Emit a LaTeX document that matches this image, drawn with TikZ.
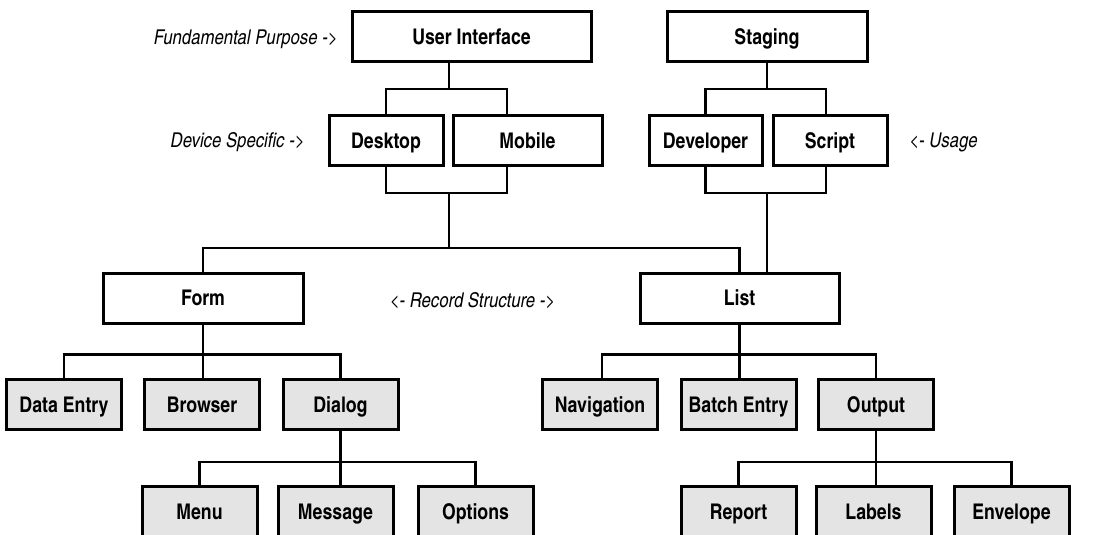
\documentclass[tikz,border=0pt]{standalone}
\usepackage{fontspec}
\newfontfamily\boxfont{texgyreheroscn-bold.otf}
\newfontfamily\notefont{texgyreheroscn-italic.otf}
\usepackage{tikz}
\usetikzlibrary{positioning,calc}
\definecolor{panel}{RGB}{228,228,228}
\tikzset{
  box/.style={draw=black, line width=1.5pt, fill=#1, align=center, minimum height=25pt, inner sep=0pt, text height=7.6pt, text depth=0pt, font=\boxfont\fontsize{10.8}{12}\selectfont},
  box/.default={white},
  leaf/.style={box=panel, minimum width=57.5pt},
  note/.style={inner sep=0pt, text height=7.3pt, text depth=0pt, font=\notefont\fontsize{10.2}{12}\selectfont},
  link/.style={line width=1.4pt, draw=black}
}

\begin{document}
\begin{tikzpicture}[x=0.5pt,y=-0.5pt]
  \useasboundingbox (0,0) rectangle (1114,535);
  % purpose and device
  \node[box, minimum width=119.5pt] (ui) at (471.5,36.5) {User Interface};
  \node[box, minimum width=100pt] (stg) at (767,36.5) {Staging};
  \node[box, minimum width=57pt] (desk) at (386,140.5) {Desktop};
  \node[box, minimum width=74.5pt] (mob) at (527.5,140.5) {Mobile};
  \node[box, minimum width=56.5pt] (dev) at (705.5,140.5) {Developer};
  \node[box, minimum width=57pt] (scr) at (830,140.5) {Script};
  % record structure
  \node[box, minimum width=100pt] (form) at (203,298) {Form};
  \node[box, minimum width=99.5pt] (list) at (739.5,298) {List};
  \node[leaf] (dent) at (64,404.5) {Data Entry};
  \node[leaf] (brow) at (202,404.5) {Browser};
  \node[leaf] (dlg) at (340.5,404.5) {Dialog};
  \node[leaf] (nav) at (600,404.5) {Navigation};
  \node[leaf] (bent) at (738.5,404.5) {Batch Entry};
  \node[leaf] (outp) at (876,404.5) {Output};
  \node[leaf] (menu) at (199.5,511.5) {Menu};
  \node[leaf] (msg) at (335.5,511.5) {Message};
  \node[leaf] (opt) at (475.5,511.5) {Options};
  \node[leaf] (rep) at (738.5,511.5) {Report};
  \node[leaf] (lab) at (873.5,511.5) {Labels};
  \node[leaf] (env) at (1011.5,511.5) {Envelope};
  % side notes
  \node[note, anchor=east] (npur) at (338,37) {Fundamental Purpose ->};
  \node[note, anchor=east] (ndev) at (305,140) {Device Specific ->};
  \node[note, anchor=west] (nuse) at (909,140) {<- Usage};
  \node[note] (nrec) at (472.5,300) {<- Record Structure ->};
  % junctions
  \coordinate (uj) at (449,89);
  \coordinate (mobx) at (507,0);
  \coordinate (dj) at (449,193);
  \coordinate (rj) at (449,248);
  \coordinate (sj) at (767,89);
  \coordinate (tj) at (767,193);
  % connectors
  \draw[link] (ui.south -| uj) -- (uj);
  \draw[link] (desk.north) |- (uj) -| (mob.north -| mobx);
  \draw[link] (desk.south) |- (dj) -| (mob.south -| mobx);
  \draw[link] (dj) -- (rj);
  \draw[link] (form.north) |- (rj) -| (list.north);
  \draw[link] (stg.south) -- (sj);
  \draw[link] (dev.north) |- (sj) -| ([xshift=-2pt]scr.north);
  \draw[link] (dev.south) |- (tj) -| ([xshift=-2pt]scr.south);
  \draw[link] (tj) -- (list.north -| tj);
  \draw[link] (form.south) -- ++(0,30) coordinate (fj);
  \draw[link] (dent.north) |- (fj) -| (dlg.north);
  \draw[link] (fj) -- (fj |- brow.north);
  \draw[link] (dlg.south) -- ++(0,31) coordinate (gj);
  \draw[link] (menu.north) |- (gj) -| (opt.north);
  \draw[link] (gj) -- (gj |- msg.north);
  \draw[link] (list.south) -- ++(0,30) coordinate (lj);
  \draw[link] ([xshift=1pt]nav.north) |- (lj) -| (outp.north);
  \draw[link] (lj) -- (lj |- bent.north);
  \draw[link] (outp.south) -- ++(0,31) coordinate (oj);
  \draw[link] (rep.north) |- (oj) -| (env.north);
  \draw[link] (oj) -- (oj |- lab.north);
\end{tikzpicture}
\end{document}
